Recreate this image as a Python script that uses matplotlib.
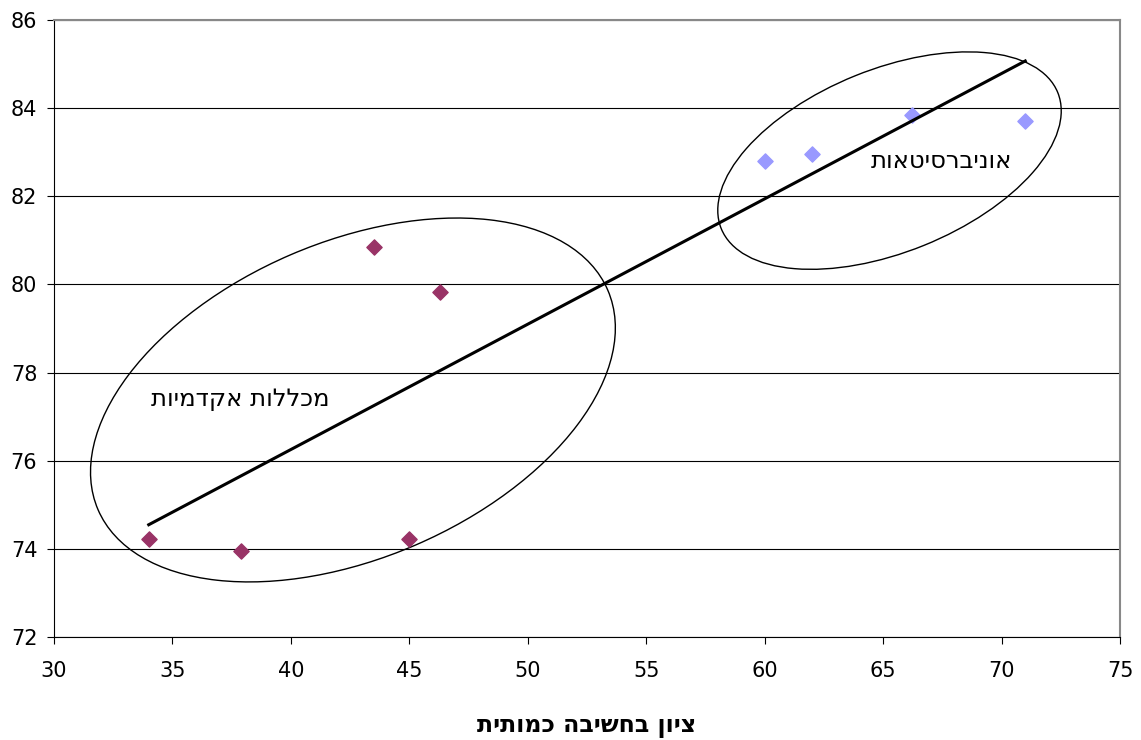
import matplotlib
matplotlib.use("Agg")
import matplotlib.pyplot as plt
from matplotlib.patches import Ellipse
from matplotlib.transforms import ScaledTranslation

# colleges (purple) and universities (light blue)
college_x = [34.0, 37.9, 43.5, 45.0, 46.3]
college_y = [74.22, 73.96, 80.85, 74.22, 79.82]
univ_x = [60.0, 62.0, 66.2, 71.0]
univ_y = [82.8, 82.95, 83.85, 83.7]
trend_x = [34.0, 71.0]
trend_y = [74.55, 85.07]

x_label = "ציון בחשיבה כמותית"
college_label = "מכללות אקדמיות"
univ_label = "אוניברסיטאות"


def rtl(s):
    # matplotlib has no bidi support, so flip the Hebrew for display
    return s[::-1]


fig = plt.figure(figsize=(11.41, 7.40), dpi=100)
ax = fig.add_axes([0.0473, 0.139, 0.9343, 0.834])

ax.scatter(college_x, college_y, marker="D", s=60, color="#993366", zorder=3)
ax.scatter(univ_x, univ_y, marker="D", s=60, color="#9999FF", zorder=3)
ax.plot(trend_x, trend_y, color="black", lw=2.2, zorder=4)

# circled groups, sized in inches around a data-space centre
for cx, cy, w, h, ang in [(42.62, 77.38, 5.55, 3.16, 23.3),
                          (65.27, 82.81, 3.63, 1.83, 22.0)]:
    tr = fig.dpi_scale_trans + ScaledTranslation(cx, cy, ax.transData)
    ax.add_patch(Ellipse((0, 0), w, h, angle=ang, transform=tr,
                         fill=False, edgecolor="black", lw=1.0, zorder=2))

ax.text(37.85, 77.4, rtl(college_label), fontsize=17.5, ha="center", va="center")
ax.text(67.45, 82.8, rtl(univ_label), fontsize=17.5, ha="center", va="center")

ax.set_xlim(30, 75)
ax.set_ylim(72, 86)
ax.set_xticks(range(30, 76, 5))
ax.set_yticks(range(72, 87, 2))
ax.yaxis.grid(True, color="black", lw=0.8)
ax.set_axisbelow(True)
ax.tick_params(labelsize=15, direction="out", length=5)
ax.tick_params(axis="x", pad=12)
ax.tick_params(axis="y", pad=7)

for side in ["top", "right"]:
    ax.spines[side].set_color("#888888")
    ax.spines[side].set_linewidth(1.5)
for side in ["left", "bottom"]:
    ax.spines[side].set_color("black")

ax.set_xlabel(rtl(x_label), fontsize=17, fontweight="bold", labelpad=24)

fig.savefig("out.png", dpi=100)
